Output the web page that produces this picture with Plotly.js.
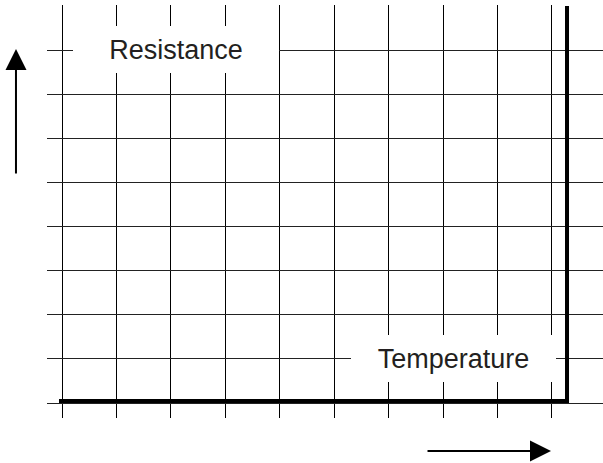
<!DOCTYPE html>
<html>
<head>
<meta charset="utf-8">
<script src="https://cdn.plot.ly/plotly-3.0.1.min.js"></script>
<style>html,body{margin:0;padding:0;background:#fff;}#chart{width:603px;height:463px;}</style>
</head>
<body>
<div id="chart"></div>
<script>
// Grid positions (temperature and resistance divisions)
const xTicks = [0, 1, 2, 3, 4, 5, 6, 7, 8, 9];
const yTicks = [0, 1, 2, 3, 4, 5, 6, 7, 8, 9];
// Resistance vs temperature curve (schematic)
const curveTemperature = [-0.055, 9.276, 9.276];
const curveResistance = [0.045, 0.045, 9.0];
// Axis labels
const yLabel = "Resistance";
const xLabel = "Temperature";

const ink = "#231f20";
const font = {family: "Liberation Sans", size: 27, color: ink};

const trace = {
  x: curveTemperature,
  y: curveResistance,
  type: "scatter",
  mode: "lines",
  line: {color: "#000", width: 4},
  hoverinfo: "skip",
  cliponaxis: false
};

const layout = {
  width: 603,
  height: 463,
  margin: {l: 47, r: 0, t: 5, b: 45, pad: 0},
  paper_bgcolor: "#fff",
  plot_bgcolor: "#fff",
  showlegend: false,
  xaxis: {
    range: [-0.2755, 9.937],
    tickmode: "array",
    tickvals: xTicks,
    showticklabels: false,
    ticks: "",
    showgrid: true,
    gridcolor: "#000",
    gridwidth: 1,
    zeroline: false,
    showline: false,
    fixedrange: true
  },
  yaxis: {
    range: [-0.340, 9.0227],
    tickmode: "array",
    tickvals: yTicks,
    showticklabels: false,
    ticks: "",
    showgrid: true,
    gridcolor: "#222",
    gridwidth: 1,
    zeroline: false,
    showline: false,
    fixedrange: true
  },
  annotations: [
    {
      x: 2.094, y: 8.014, xref: "x", yref: "y",
      text: yLabel, showarrow: false, font: font,
      bgcolor: "#fff", borderwidth: 0, borderpad: 0,
      width: 206, height: 47, align: "center", valign: "middle"
    },
    {
      x: 7.191, y: 1.009, xref: "x", yref: "y",
      text: xLabel, showarrow: false, font: font,
      bgcolor: "#fff", borderwidth: 0, borderpad: 0,
      width: 205, height: 47, align: "center", valign: "middle"
    },
    {
      x: -0.0558, y: 0.8935, xref: "paper", yref: "paper",
      text: "", showarrow: true, ax: 0, ay: 126,
      arrowhead: 2, arrowsize: 2.1, arrowwidth: 2, arrowcolor: "#000"
    },
    {
      x: 0.9065, y: -0.0799, xref: "paper", yref: "paper",
      text: "", showarrow: true, ax: -125, ay: 0,
      arrowhead: 2, arrowsize: 2.1, arrowwidth: 2, arrowcolor: "#000"
    }
  ]
};

Plotly.newPlot("chart", [trace], layout, {staticPlot: true, displayModeBar: false});
</script>
</body>
</html>
